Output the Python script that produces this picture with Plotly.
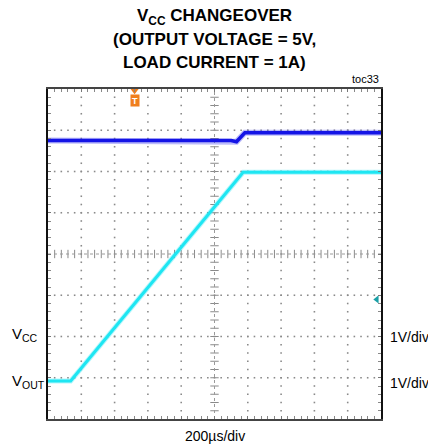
import plotly.graph_objects as go

# ---- data (time in µs, 200 µs/div; vertical position in screen divisions, 0..8) ----
vcc_time = [-1000, 100, 132, 182, 1000]
vcc_div = [6.75, 6.75, 6.72, 6.94, 6.94]

vout_time = [-1000, -864, 172, 1000]
vout_div = [0.92, 0.92, 5.98, 5.98]

trigger_time = -480
ref_marker_div = 2.9

x_range = [-1000, 1000]
y_range = [0, 8]
x_div = 200
y_div = 1

title_lines = ["<b>V<sub>CC</sub> CHANGEOVER</b>",
               "<b>(OUTPUT VOLTAGE = 5V,</b>",
               "<b>LOAD CURRENT = 1A)</b>"]

BLUE = "#1414e6"
CYAN = "#1ee6f2"
FONT = "Liberation Sans, Arial, sans-serif"

fig = go.Figure()

# ---- graticule dots (built from the axis divisions) ----
gx, gy = [], []
nx = int((x_range[1] - x_range[0]) / x_div)
ny = int((y_range[1] - y_range[0]) / y_div)
for i in range(1, nx):
    xv = x_range[0] + i * x_div
    if xv == 0:
        continue
    for k in range(1, ny * 5):
        gx.append(xv); gy.append(k * y_div / 5)
for j in range(1, ny):
    yv = j * y_div
    if yv == 4:
        continue
    for k in range(1, nx * 5):
        gx.append(x_range[0] + k * x_div / 5); gy.append(yv)
fig.add_trace(go.Scatter(x=gx, y=gy, mode="markers", hoverinfo="skip",
                         marker=dict(symbol="square", size=1.6, color="#8a8a8a", line=dict(width=0))))

# center crosshair with ticks
cx = [x_range[0] + k * x_div / 5 for k in range(1, nx * 5)]
fig.add_trace(go.Scatter(x=cx, y=[4] * len(cx), mode="markers", hoverinfo="skip",
                         marker=dict(symbol="line-ns", size=6, line=dict(width=1, color="#8a8a8a"))))
cy = [k * y_div / 5 for k in range(1, ny * 5)]
fig.add_trace(go.Scatter(x=[0] * len(cy), y=cy, mode="markers", hoverinfo="skip",
                         marker=dict(symbol="line-ew", size=6, line=dict(width=1, color="#8a8a8a"))))
fig.add_trace(go.Scatter(x=x_range, y=[4, 4], mode="lines", hoverinfo="skip",
                         line=dict(color="#9a9a9a", width=1, dash="dot")))
fig.add_trace(go.Scatter(x=[0, 0], y=y_range, mode="lines", hoverinfo="skip",
                         line=dict(color="#9a9a9a", width=1, dash="dot")))

# ---- traces ----
fig.add_trace(go.Scatter(x=vcc_time, y=vcc_div, mode="lines", hoverinfo="skip",
                         line=dict(color="rgba(60,60,240,0.35)", width=6)))
fig.add_trace(go.Scatter(x=vcc_time, y=vcc_div, mode="lines", name="VCC",
                         line=dict(color=BLUE, width=3.5)))
fig.add_trace(go.Scatter(x=vout_time, y=vout_div, mode="lines", hoverinfo="skip",
                         line=dict(color="rgba(40,230,245,0.35)", width=5)))
fig.add_trace(go.Scatter(x=vout_time, y=vout_div, mode="lines", name="VOUT",
                         line=dict(color=CYAN, width=3)))

# trigger marker and reference marker
fig.add_trace(go.Scatter(x=[trigger_time], y=[7.96], mode="markers", cliponaxis=False, hoverinfo="skip",
                         marker=dict(symbol="triangle-down", size=7, color="#f07f1e")))
fig.add_annotation(x=trigger_time, y=7.71, xref="x", yref="y", text="<b>T</b>", showarrow=False,
                   font=dict(family=FONT, size=9, color="white"), bgcolor="#f07f1e",
                   width=8, height=11, borderpad=0)
fig.add_trace(go.Scatter(x=[975], y=[ref_marker_div], mode="markers", cliponaxis=False, hoverinfo="skip",
                         marker=dict(symbol="triangle-left", size=7, color="#1a9fa6")))

# ---- text ----
fig.add_annotation(x=-0.114, y=2.05, xref="paper", yref="y", xanchor="left", yanchor="middle",
                   text="V<sub>CC</sub>", showarrow=False, font=dict(family=FONT, size=15, color="black"))
fig.add_annotation(x=-0.114, y=0.9, xref="paper", yref="y", xanchor="left", yanchor="middle",
                   text="V<sub>OUT</sub>", showarrow=False, font=dict(family=FONT, size=15, color="black"))
fig.add_annotation(x=1.021, y=2.0, xref="paper", yref="y", xanchor="left", yanchor="middle",
                   text="1V/div", showarrow=False, font=dict(family=FONT, size=14, color="black"))
fig.add_annotation(x=1.021, y=0.87, xref="paper", yref="y", xanchor="left", yanchor="middle",
                   text="1V/div", showarrow=False, font=dict(family=FONT, size=14, color="black"))
fig.add_annotation(x=0.5, y=-0.052, xref="paper", yref="paper", xanchor="center", yanchor="middle",
                   text="200µs/div", showarrow=False, font=dict(family=FONT, size=14, color="black"))
fig.add_annotation(x=1.0, y=1.005, xref="paper", yref="paper", xanchor="right", yanchor="bottom",
                   text="toc33", showarrow=False, font=dict(family=FONT, size=11, color="black"))

for line, ypos in zip(title_lines, [1.218, 1.1485, 1.0788]):
    fig.add_annotation(x=0.5, y=ypos, xref="paper", yref="paper", xanchor="center", yanchor="middle",
                       text=line, showarrow=False, font=dict(family=FONT, size=17, color="black"))

axis_common = dict(showgrid=False, zeroline=False, showticklabels=False,
                   ticks="inside", ticklen=3, tickcolor="#777", tickwidth=1,
                   mirror="allticks", showline=True, linewidth=2, fixedrange=True)

fig.update_layout(
    width=428, height=444,
    margin=dict(l=48, r=47, t=89, b=25),
    paper_bgcolor="white", plot_bgcolor="white",
    showlegend=False,
    xaxis=dict(range=x_range, dtick=x_div, tick0=0, linecolor="#444",
               minor=dict(dtick=x_div / 5, ticks="inside", ticklen=3, tickcolor="#888"),
               **axis_common),
    yaxis=dict(range=y_range, dtick=y_div, tick0=0, linecolor="#111",
               minor=dict(dtick=y_div / 5, ticks="inside", ticklen=3, tickcolor="#888"),
               **axis_common),
)

fig.write_html("out.html", config={"displayModeBar": False},
               post_script="document.body.style.margin='0';document.body.style.overflow='hidden';")
